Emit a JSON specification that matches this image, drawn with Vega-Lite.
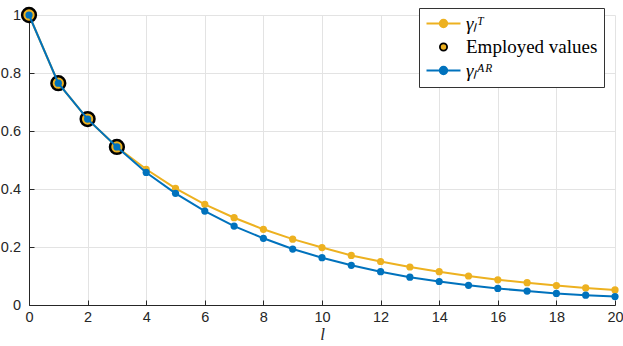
{
  "$schema": "https://vega.github.io/schema/vega-lite/v6.json",
  "width": 586,
  "height": 290,
  "autosize": {"type": "none"},
  "padding": {"left": 29, "top": 15, "right": 8, "bottom": 41},
  "background": "white",
  "config": {
    "view": {"stroke": null},
    "axis": {
      "grid": true,
      "gridColor": "#e3e3e3",
      "gridWidth": 1,
      "domainColor": "#262626",
      "domainWidth": 1,
      "tickColor": "#262626",
      "tickSize": -5,
      "labelFlush": false,
      "labelFont": "Liberation Sans",
      "labelFontSize": 14.5,
      "labelColor": "#262626",
      "titleColor": "#262626"
    }
  },
  "data": {
    "values": [
      {"l": 0, "s": "T", "v": 1.0},
      {"l": 1, "s": "T", "v": 0.765},
      {"l": 2, "s": "T", "v": 0.641},
      {"l": 3, "s": "T", "v": 0.545},
      {"l": 4, "s": "T", "v": 0.468},
      {"l": 5, "s": "T", "v": 0.402},
      {"l": 6, "s": "T", "v": 0.347},
      {"l": 7, "s": "T", "v": 0.301},
      {"l": 8, "s": "T", "v": 0.261},
      {"l": 9, "s": "T", "v": 0.227},
      {"l": 10, "s": "T", "v": 0.198},
      {"l": 11, "s": "T", "v": 0.171},
      {"l": 12, "s": "T", "v": 0.150},
      {"l": 13, "s": "T", "v": 0.131},
      {"l": 14, "s": "T", "v": 0.115},
      {"l": 15, "s": "T", "v": 0.100},
      {"l": 16, "s": "T", "v": 0.087},
      {"l": 17, "s": "T", "v": 0.077},
      {"l": 18, "s": "T", "v": 0.067},
      {"l": 19, "s": "T", "v": 0.059},
      {"l": 20, "s": "T", "v": 0.052},
      {"l": 0, "s": "AR", "v": 1.0},
      {"l": 1, "s": "AR", "v": 0.765},
      {"l": 2, "s": "AR", "v": 0.641},
      {"l": 3, "s": "AR", "v": 0.545},
      {"l": 4, "s": "AR", "v": 0.457},
      {"l": 5, "s": "AR", "v": 0.385},
      {"l": 6, "s": "AR", "v": 0.324},
      {"l": 7, "s": "AR", "v": 0.272},
      {"l": 8, "s": "AR", "v": 0.230},
      {"l": 9, "s": "AR", "v": 0.193},
      {"l": 10, "s": "AR", "v": 0.163},
      {"l": 11, "s": "AR", "v": 0.137},
      {"l": 12, "s": "AR", "v": 0.115},
      {"l": 13, "s": "AR", "v": 0.096},
      {"l": 14, "s": "AR", "v": 0.081},
      {"l": 15, "s": "AR", "v": 0.068},
      {"l": 16, "s": "AR", "v": 0.057},
      {"l": 17, "s": "AR", "v": 0.048},
      {"l": 18, "s": "AR", "v": 0.040},
      {"l": 19, "s": "AR", "v": 0.034},
      {"l": 20, "s": "AR", "v": 0.029}
    ]
  },
  "encoding": {
    "x": {
      "field": "l",
      "type": "quantitative",
      "scale": {"domain": [0, 20], "nice": false, "zero": false},
      "axis": {
        "values": [0, 2, 4, 6, 8, 10, 12, 14, 16, 18, 20],
        "labelPadding": 10,
        "title": "l",
        "titleFont": "Liberation Serif",
        "titleFontStyle": "italic",
        "titleFontWeight": "normal",
        "titleFontSize": 17,
        "titlePadding": 3
      }
    },
    "y": {
      "field": "v",
      "type": "quantitative",
      "scale": {"domain": [0, 1], "nice": false},
      "axis": {
        "values": [0, 0.2, 0.4, 0.6, 0.8, 1],
        "format": "~g",
        "labelPadding": 13.5,
        "title": null
      }
    }
  },
  "layer": [
    {
      "transform": [{"filter": "datum.s === 'T'"}],
      "mark": {"type": "line", "strokeWidth": 2},
      "encoding": {
        "stroke": {
          "field": "s",
          "type": "nominal",
          "scale": {"domain": ["T", "E", "AR"], "range": ["#EDB120", "#000000", "#0072BD"]},
          "legend": {
            "title": null,
            "orient": "none",
            "legendX": 390,
            "legendY": -7,
            "padding": 6,
            "fillColor": "white",
            "strokeColor": "#333333",
            "symbolSize": 400,
            "symbolStrokeWidth": 2,
            "symbolOffset": 9,
            "labelOffset": 13,
            "rowPadding": 3.5,
            "labelFont": "Liberation Serif",
            "labelFontSize": 19,
            "labelColor": "#000000",
            "labelExpr": "datum.value === 'T' ? 'γₗᵀ' : datum.value === 'E' ? 'Employed values' : 'γₗᴬᴿ'",
            "encode": {
              "symbols": {
                "update": {
                  "shape": {"signal": "datum.value === 'E' ? 'M0.36,0A0.36,0.36,0,1,1,-0.36,0A0.36,0.36,0,1,1,0.36,0Z' : 'M-1.7,0L1.7,0M0.37,0A0.37,0.37,0,1,1,-0.37,0A0.37,0.37,0,1,1,0.37,0Z'"},
                  "strokeWidth": {"signal": "datum.value === 'E' ? 1.8 : 2"},
                  "opacity": {"value": 1},
                  "fillOpacity": {"value": 1},
                  "strokeOpacity": {"value": 1},
                  "size": {"value": 400}
                }
              },
              "labels": {
                "update": {
                  "fontStyle": {"signal": "datum.value === 'E' ? 'normal' : 'italic'"}
                }
              }
            }
          }
        }
      }
    },
    {
      "transform": [{"filter": "datum.s === 'T'"}],
      "mark": {"type": "point", "shape": "circle", "filled": true, "size": 52, "opacity": 1},
      "encoding": {
        "fill": {
          "field": "s",
          "type": "nominal",
          "scale": {"domain": ["T", "E", "AR"], "range": ["#EDB120", "#EDB120", "#0072BD"]},
          "legend": {
            "title": null,
            "orient": "none",
            "legendX": 390,
            "legendY": -7,
            "padding": 6,
            "fillColor": "white",
            "strokeColor": "#333333",
            "symbolSize": 400,
            "symbolStrokeWidth": 2,
            "symbolOffset": 9,
            "labelOffset": 13,
            "rowPadding": 3.5,
            "labelFont": "Liberation Serif",
            "labelFontSize": 19,
            "labelColor": "#000000",
            "labelExpr": "datum.value === 'T' ? 'γₗᵀ' : datum.value === 'E' ? 'Employed values' : 'γₗᴬᴿ'"
          }
        }
      }
    },
    {
      "transform": [{"filter": "datum.s === 'T' && datum.l <= 3"}],
      "mark": {"type": "point", "shape": "circle", "filled": true, "fill": "#EDB120", "stroke": "#000000", "strokeWidth": 2.5, "size": 190, "opacity": 1}
    },
    {
      "transform": [{"filter": "datum.s === 'AR'"}],
      "mark": {"type": "line", "strokeWidth": 2},
      "encoding": {
        "stroke": {"field": "s", "type": "nominal"}
      }
    },
    {
      "transform": [{"filter": "datum.s === 'AR'"}],
      "mark": {"type": "point", "shape": "circle", "filled": true, "size": 52, "opacity": 1},
      "encoding": {
        "fill": {"field": "s", "type": "nominal"}
      }
    }
  ]
}
